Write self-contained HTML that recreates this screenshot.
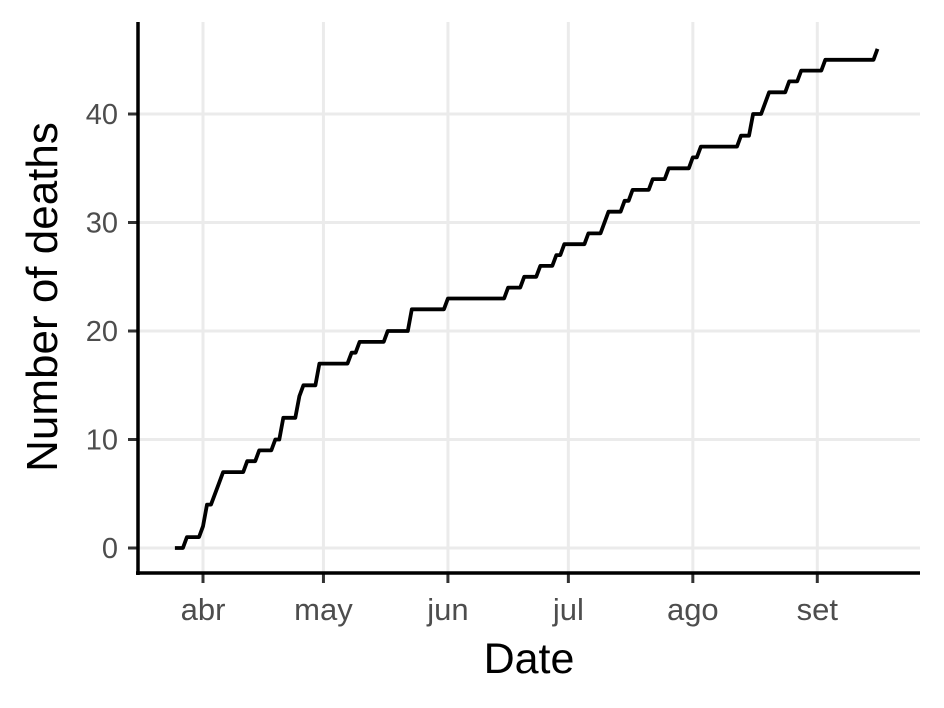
<!DOCTYPE html>
<html><head><meta charset="utf-8"><style>body{margin:0;background:#fff}svg{display:block;font-family:"Liberation Sans",sans-serif}</style></head>
<body>
<svg id="chart" width="944" height="708" viewBox="0 0 944 708"></svg>
<script>
const monthLabels = ["abr","may","jun","jul","ago","set"];
const monthDays = [0,30,61,91,122,153];
const yTicks = [0,10,20,30,40];
const days = [-7,-5,-4,-1,0,1,2,4,5,10,11,13,14,17,18,19,20,23,24,25,28,29,36,37,38,39,45,46,51,52,60,61,75,76,79,80,83,84,87,88,89,90,95,96,99,101,104,105,106,107,111,112,115,116,121,122,123,124,133,134,136,137,139,141,145,146,148,149,154,155,167,168];
const deaths = [0,0,1,1,2,4,4,6,7,7,8,8,9,9,10,10,12,12,14,15,15,17,17,18,18,19,19,20,20,22,22,23,23,24,24,25,25,26,26,27,27,28,28,29,29,31,31,32,32,33,33,34,34,35,35,36,36,37,37,38,38,40,40,42,42,43,43,44,44,45,45,46];
const NS="http://www.w3.org/2000/svg";
const svg=document.getElementById('chart');
const xS=d=>203+d*4.015;
const yS=v=>548-v*10.85;
function mk(t,a,txt){const e=document.createElementNS(NS,t);for(const k in a)e.setAttribute(k,a[k]);if(txt!==undefined)e.textContent=txt;svg.appendChild(e);return e;}
yTicks.forEach(v=>{
  const g=mk('line',{x1:138,x2:920,y1:yS(v),y2:yS(v),stroke:'#ebebeb','stroke-width':3});
  
  
  const t=mk('line',{x1:128,x2:138,y1:yS(v),y2:yS(v),stroke:'#333','stroke-width':3});
  
  
  const l=mk('text',{x:118,y:yS(v)+10,'text-anchor':'end','font-size':29,fill:'#4d4d4d'},String(v));
  
  
});
monthDays.forEach((d,i)=>{
  const g=mk('line',{x1:xS(d),x2:xS(d),y1:22,y2:573,stroke:'#ebebeb','stroke-width':3});
  
  
  const t=mk('line',{x1:xS(d),x2:xS(d),y1:573,y2:583,stroke:'#333','stroke-width':3});
  
  
  const l=mk('text',{x:xS(d),y:620,'text-anchor':'middle','font-size':31,fill:'#4d4d4d'},monthLabels[i]);
  
  
});
const ya=mk('line',{x1:138,x2:138,y1:22,y2:575,stroke:'#000','stroke-width':3.5});


const xa=mk('line',{x1:136,x2:920,y1:573,y2:573,stroke:'#000','stroke-width':3.5});


const pts=days.map((d,i)=>xS(d).toFixed(1)+','+yS(deaths[i]).toFixed(1)).join(' ');
const line=mk('polyline',{points:pts,fill:'none',stroke:'#000','stroke-width':3.8,'stroke-linejoin':'round'});


const xt=mk('text',{x:529,y:673,'text-anchor':'middle','font-size':43,fill:'#000'},'Date');


const yt=mk('text',{x:0,y:0,'text-anchor':'middle','font-size':44,fill:'#000',transform:'translate(57,297) rotate(-90)'},'Number of deaths');


</script>
</body></html>
